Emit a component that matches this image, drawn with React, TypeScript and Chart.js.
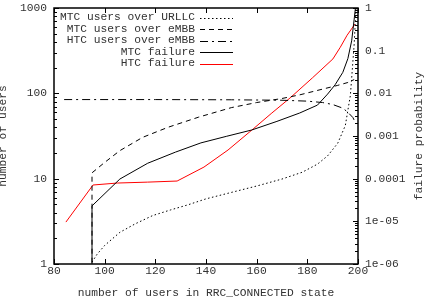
import React, { useEffect, useRef } from "react";
import { Chart, registerables } from "chart.js";

Chart.register(...registerables);

const FONT_FAMILY = "'Liberation Mono', 'DejaVu Sans Mono', monospace";
const FONT_SIZE = 11.25;
const TEXT_COLOR = "#333";

// axis ticks
const xTickValues = [80, 100, 120, 140, 160, 180, 200];
const yLeftTicks = [1, 10, 100, 1000];
const yRightTicks = [1e-6, 1e-5, 1e-4, 1e-3, 1e-2, 1e-1, 1];
const yRightTickLabels = ["1e-06", "1e-05", "0.0001", "0.001", "0.01", "0.1", "1"];

// titles
const xTitle = "number of users in RRC_CONNECTED state";
const yLeftTitle = "number of users";
const yRightTitle = "failure probability";

// series: MTC users over URLLC (left axis)
const urllcX = [95, 97, 100, 106, 112, 119, 126, 133, 140, 150, 160, 170, 178, 184, 188, 192, 195, 197, 198.5, 199.5];
const urllcY = [1.05, 1.3, 1.65, 2.35, 2.95, 3.7, 4.3, 4.95, 5.8, 6.9, 8.2, 9.9, 11.9, 14.8, 18.5, 26, 42, 95, 380, 1500];

// series: MTC users over eMBB (left axis)
const mtcEmbbX = [95, 95, 100, 106, 115, 125, 137, 150, 160, 170, 177, 186, 192, 196, 198.5];
const mtcEmbbY = [0.5, 11.7, 15.5, 21.3, 30.5, 40, 52.5, 68, 78, 87, 96, 112, 124, 134, 145];

// series: HTC users over eMBB (left axis)
const htcEmbbX = [84, 95, 120, 150, 170, 180, 186, 190, 194, 196, 198, 199];
const htcEmbbY = [84.5, 84.5, 84.5, 84, 83, 81, 78, 74, 67, 60, 52, 45];

// series: MTC failure (right axis)
const mtcFailX = [95, 95, 106, 117, 128, 138, 148, 158, 168, 177, 184, 188, 191, 194, 196, 197.5, 198.5, 199.3];
const mtcFailY = [1e-9, 2.3e-5, 9.8e-5, 2.3e-4, 4.2e-4, 6.9e-4, 9.8e-4, 1.38e-3, 2.2e-3, 3.46e-3, 5.3e-3, 9.6e-3, 1.6e-2, 3.1e-2, 6.5e-2, 0.17, 0.55, 1.5];

// series: HTC failure (right axis)
const htcFailX = [84.7, 95.4, 105, 117, 128.6, 139.2, 148.7, 158.6, 166, 173.2, 182, 190.1, 193, 195.7, 198.8];
const htcFailY = [9.6e-6, 7.1e-5, 7.9e-5, 8.3e-5, 8.8e-5, 1.87e-4, 4.7e-4, 1.46e-3, 3.46e-3, 7.8e-3, 0.023, 0.064, 0.12, 0.23, 0.42];

const pts = (xs: number[], ys: number[]) => xs.map((x, i) => ({ x, y: ys[i] }));

const font = { family: FONT_FAMILY, size: FONT_SIZE };

const decorPlugin = {
  id: "gnuplotDecor",
  afterDraw(chart: any) {
    const { ctx, chartArea, scales } = chart;
    const { left, right, top, bottom } = chartArea;
    const xs = scales.x;
    const yl = scales.y;
    const yr = scales.y2;
    ctx.save();
    ctx.strokeStyle = "#000";
    ctx.lineWidth = 1;
    ctx.setLineDash([]);
    // ticks
    ctx.beginPath();
    xTickValues.forEach((v) => {
      const px = Math.round(xs.getPixelForValue(v)) + 0.5;
      ctx.moveTo(px, bottom);
      ctx.lineTo(px, bottom - 5);
      ctx.moveTo(px, top);
      ctx.lineTo(px, top + 5);
    });
    for (let d = 0; d < 3; d++) {
      for (let m = 1; m <= 9; m++) {
        const v = m * Math.pow(10, d);
        const py = Math.round(yl.getPixelForValue(v)) + 0.5;
        ctx.moveTo(left, py);
        ctx.lineTo(left + (m === 1 ? 5 : 3), py);
      }
    }
    {
      const py = Math.round(yl.getPixelForValue(1000)) + 0.5;
      ctx.moveTo(left, py);
      ctx.lineTo(left + 5, py);
    }
    for (let d = -6; d < 0; d++) {
      for (let m = 1; m <= 9; m++) {
        const v = m * Math.pow(10, d);
        const py = Math.round(yr.getPixelForValue(v)) + 0.5;
        ctx.moveTo(right, py);
        ctx.lineTo(right - (m === 1 ? 5 : 3), py);
      }
    }
    {
      const py = Math.round(yr.getPixelForValue(1)) + 0.5;
      ctx.moveTo(right, py);
      ctx.lineTo(right - 5, py);
    }
    ctx.stroke();
    // frame
    ctx.lineWidth = 1.5;
    ctx.strokeRect(left, top, right - left, bottom - top);

    ctx.fillStyle = TEXT_COLOR;
    ctx.font = `${FONT_SIZE}px ${FONT_FAMILY}`;

    // titles
    ctx.textAlign = "center";
    ctx.textBaseline = "middle";
    ctx.fillText(xTitle, (left + right) / 2, 293);
    ctx.textBaseline = "alphabetic";
    ctx.save();
    ctx.translate(6, (top + bottom) / 2);
    ctx.rotate(-Math.PI / 2);
    ctx.fillText(yLeftTitle, 0, 0);
    ctx.restore();
    ctx.save();
    ctx.translate(422, (top + bottom) / 2);
    ctx.rotate(-Math.PI / 2);
    ctx.fillText(yRightTitle, 0, 0);
    ctx.restore();

    // legend
    const textRight = 195;
    const lineStart = 200;
    const lineEnd = 233;
    const rowTop = 17.5;
    const rowStep = 11.5;
    ctx.textAlign = "right";
    ctx.textBaseline = "middle";
    chart.data.datasets.forEach((ds: any, i: number) => {
      const y = rowTop + i * rowStep;
      ctx.fillStyle = TEXT_COLOR;
      ctx.fillText(ds.label, textRight, y);
      ctx.beginPath();
      ctx.strokeStyle = ds.borderColor;
      ctx.lineWidth = ds.borderWidth;
      ctx.setLineDash(ds.borderDash || []);
      const ly = Math.round(y) + 0.5;
      ctx.moveTo(lineStart, ly);
      ctx.lineTo(lineEnd, ly);
      ctx.stroke();
    });
    ctx.restore();
  },
};

export default function App() {
  const canvasRef = useRef<HTMLCanvasElement | null>(null);

  useEffect(() => {
    const canvas = canvasRef.current;
    if (!canvas) return;
    const common = { pointRadius: 0, borderWidth: 1, tension: 0, fill: false, clip: 0 };
    const chart = new Chart(canvas, {
      type: "line",
      data: {
        datasets: [
          { ...common, label: "MTC users over URLLC", data: pts(urllcX, urllcY), borderColor: "#000", borderDash: [1.5, 2.5], yAxisID: "y" },
          { ...common, label: "MTC users over eMBB", data: pts(mtcEmbbX, mtcEmbbY), borderColor: "#000", borderDash: [5, 4], yAxisID: "y" },
          { ...common, label: "HTC users over eMBB", data: pts(htcEmbbX, htcEmbbY), borderColor: "#000", borderDash: [8, 4, 2, 4], yAxisID: "y" },
          { ...common, label: "MTC failure", data: pts(mtcFailX, mtcFailY), borderColor: "#000", borderDash: [], yAxisID: "y2" },
          { ...common, label: "HTC failure", data: pts(htcFailX, htcFailY), borderColor: "#ff0000", borderDash: [], yAxisID: "y2" },
        ],
      },
      options: {
        animation: false,
        responsive: false,
        devicePixelRatio: 1,
        layout: { padding: { top: 8, left: 0, right: 0, bottom: 0 } },
        plugins: { legend: { display: false }, tooltip: { enabled: false } },
        scales: {
          x: {
            type: "linear",
            position: "bottom",
            min: 80,
            max: 200,
            grid: { display: false, drawTicks: false },
            border: { display: false },
            afterBuildTicks: (s: any) => {
              s.ticks = xTickValues.map((v) => ({ value: v }));
            },
            ticks: { font, color: TEXT_COLOR, padding: 0, maxRotation: 0, minRotation: 0, autoSkip: false, callback: (v: any) => String(v) },
            afterFit: (s: any) => {
              s.height = 39;
            },
          },
          y: {
            type: "logarithmic",
            position: "left",
            min: 1,
            max: 1000,
            grid: { display: false, drawTicks: false },
            border: { display: false },
            afterBuildTicks: (s: any) => {
              s.ticks = yLeftTicks.map((v) => ({ value: v }));
            },
            ticks: { font, color: TEXT_COLOR, padding: 7, autoSkip: false, callback: (v: any) => String(v) },
            afterFit: (s: any) => {
              s.width = 54;
              s.paddingTop = 0;
              s.paddingBottom = 0;
            },
          },
          y2: {
            type: "logarithmic",
            position: "right",
            min: 1e-6,
            max: 1,
            grid: { display: false, drawTicks: false },
            border: { display: false },
            afterBuildTicks: (s: any) => {
              s.ticks = yRightTicks.map((v) => ({ value: v }));
            },
            ticks: {
              font,
              color: TEXT_COLOR,
              padding: 7,
              autoSkip: false,
              callback: (v: any) => {
                const idx = yRightTicks.findIndex((t) => Math.abs(Math.log10(t) - Math.log10(v)) < 1e-6);
                return idx >= 0 ? yRightTickLabels[idx] : "";
              },
            },
            afterFit: (s: any) => {
              s.width = 76;
              s.paddingTop = 0;
              s.paddingBottom = 0;
            },
          },
        },
      } as any,
      plugins: [decorPlugin],
    });
    return () => chart.destroy();
  }, []);

  return (
    <div style={{ position: "fixed", left: 0, top: 0, width: 434, height: 303, background: "#fff" }}>
      <canvas ref={canvasRef} width={434} height={303} style={{ width: 434, height: 303, display: "block" }} />
    </div>
  );
}
